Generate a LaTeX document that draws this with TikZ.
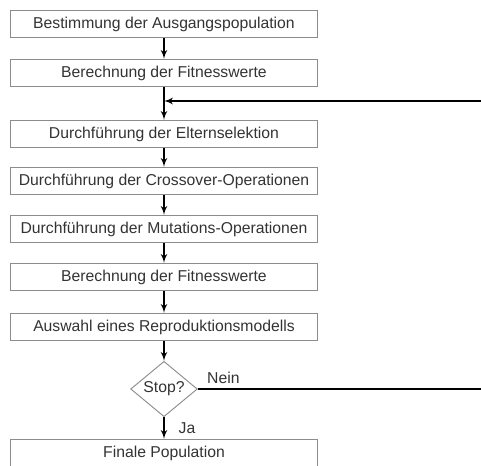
\documentclass[tikz,border=0pt]{standalone}
\usepackage{fontspec}
\setmainfont{Liberation Sans}
\usetikzlibrary{arrows,positioning,calc,shapes.geometric}

\begin{document}
\begin{tikzpicture}[x=0.75pt, y=-0.75pt,
    every node/.style={align=center, text=black!80, font=\fontsize{11.8}{14}\selectfont},
    stepBox/.style={draw=black!45, line width=0.7pt, minimum width=230pt, minimum height=20.5pt, inner sep=0pt},  % Rechteck fuer einen Schritt
    stopVertex/.style={draw=black!45, line width=0.7pt, shape=diamond, minimum width=50pt, minimum height=40pt, inner sep=0pt},
    flowarrow/.style={-latex', line width=1.3pt, black},  % Pfeil zwischen den Schritten
    backline/.style={line width=1.3pt, black}
  ]
  \useasboundingbox (0,0) rectangle (481,465);

  % Ablauf von oben nach unten
  \node[stepBox] (A1) at (164,24) {Bestimmung der Ausgangspopulation};
  \node[stepBox] (A2) at (164,73) {Berechnung der Fitnesswerte};
  \node[stepBox] (A3) at (164,134) {Durchführung der Elternselektion};
  \node[stepBox] (A4) at (164,181) {Durchführung der Crossover-Operationen};
  \node[stepBox] (A5) at (164,229) {Durchführung der Mutations-Operationen};
  \node[stepBox] (A6) at (164,277) {Berechnung der Fitnesswerte};
  \node[stepBox] (A7) at (164,327) {Auswahl eines Reproduktionsmodells};
  \node[stopVertex] (ST) at (164,389) {Stop?};
  \node[stepBox] (A8) at (164,453) {Finale Population};

  \draw[flowarrow] (A1) -- (A2);
  \draw[flowarrow] (A2) -- (A3);
  \draw[flowarrow] (A3) -- (A4);
  \draw[flowarrow] (A4) -- (A5);
  \draw[flowarrow] (A5) -- (A6);
  \draw[flowarrow] (A6) -- (A7);
  \draw[flowarrow] (A7) -- (ST);
  \draw[flowarrow] (ST) -- node[right=7pt] (JA) {Ja} (A8);

  % Rueckfuehrung (rechter Rand liegt am Bildrand)
  \coordinate (K) at (481.5,101);
  \draw[flowarrow] (ST.east) -- node[pos=0.09, above] (NE) {Nein} (ST.east -| K) -- (K) -- (K -| A2.south);
\end{tikzpicture}
\end{document}
